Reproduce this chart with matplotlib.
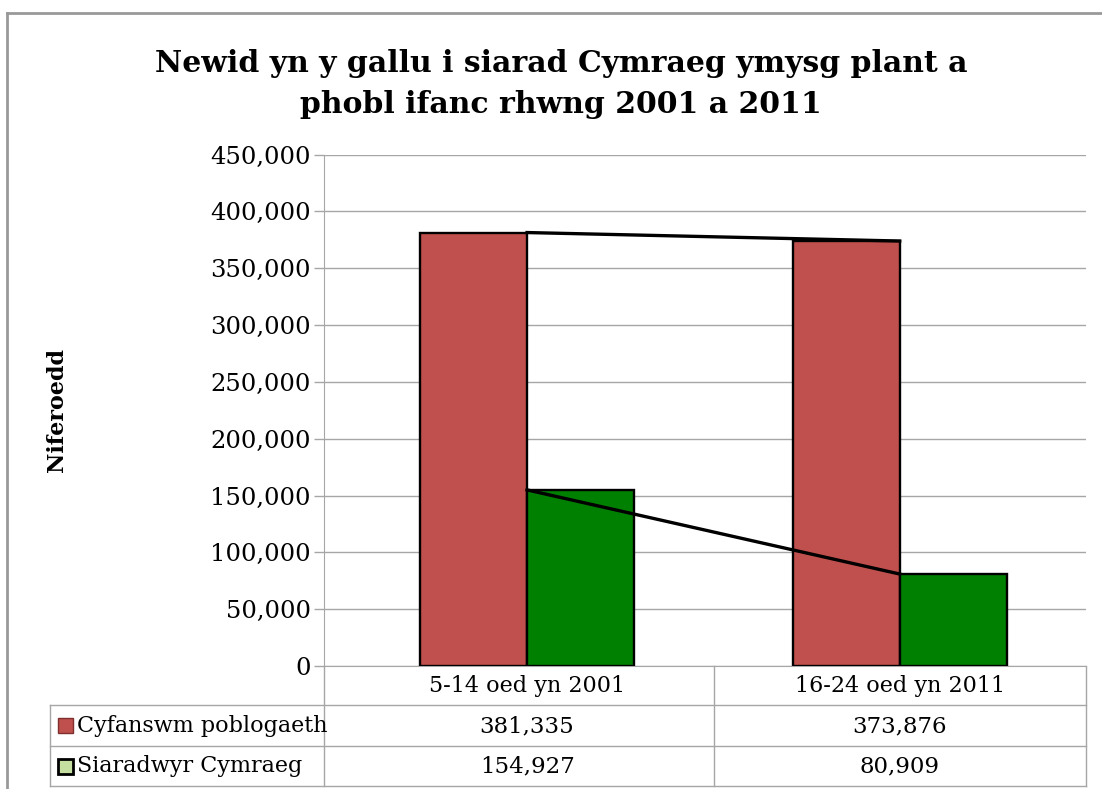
import matplotlib.pyplot as plt
from matplotlib.patches import Rectangle
from matplotlib.lines import Line2D

# Data
categories = ['5-14 oed yn 2001', '16-24 oed yn 2011']
series_names = ['Cyfanswm poblogaeth', 'Siaradwyr Cymraeg']
total_pop = [381335, 373876]
welsh_speakers = [154927, 80909]

title = 'Newid yn y gallu i siarad Cymraeg ymysg plant a\nphobl ifanc rhwng 2001 a 2011'
ylabel = 'Niferoedd'

red = '#C0504D'
green = '#008000'
grid_col = '#a6a6a6'

plt.rcParams['font.family'] = ['DejaVu Serif']

W, H = 1102, 789
fig = plt.figure(figsize=(W / 100, H / 100), dpi=100)

# plot area in pixels: x 324..1086, y 154.5..666
ax = fig.add_axes([324 / W, 1 - 666 / H, (1086 - 324) / W, (666 - 154.5) / H])

x = list(range(len(categories)))
bw = 0.287
ax.bar([i - bw / 2 for i in x], total_pop, width=bw, color=red,
       edgecolor='black', linewidth=1.7, zorder=3)
ax.bar([i + bw / 2 for i in x], welsh_speakers, width=bw, color=green,
       edgecolor='black', linewidth=1.7, zorder=3)

# series lines between the bars
ax.plot(x, total_pop, color='black', linewidth=2.4, zorder=4)
ax.plot(x, welsh_speakers, color='black', linewidth=2.4, zorder=4)

ax.set_xlim(-0.545, 1.5)
ax.set_ylim(0, 450000)
ax.set_yticks(range(0, 450001, 50000))
ax.set_yticklabels([f'{v:,}' for v in range(0, 450001, 50000)], fontsize=17.5)
ax.set_xticks([])
ax.grid(axis='y', color=grid_col, linewidth=1, zorder=0)
ax.tick_params(axis='y', length=7, width=1, color=grid_col, pad=2.5)
for s in ['top', 'right']:
    ax.spines[s].set_visible(False)
ax.spines['left'].set_color(grid_col)
ax.spines['bottom'].set_color(grid_col)

# data table below the axes (y in axes fraction)
def ay(py):
    return (666 - py) / (666 - 154.5)

def ax_x(px):
    return (px - 324) / (1086 - 324)

tbl = dict(transform=ax.transAxes, color=grid_col, linewidth=1, clip_on=False)
rows = [705, 746, 786]
for py in rows:
    ax.add_line(Line2D([ax_x(50), 1], [ay(py), ay(py)], **tbl))
ax.add_line(Line2D([0, 0], [0, ay(786)], **tbl))
ax.add_line(Line2D([ax_x(714), ax_x(714)], [0, ay(786)], **tbl))
ax.add_line(Line2D([1, 1], [0, ay(786)], **tbl))
ax.add_line(Line2D([ax_x(50), ax_x(50)], [ay(705), ay(786)], **tbl))

xt = ax.get_xaxis_transform()
for i, c in enumerate(categories):
    ax.text(i, ay(686), c, transform=xt, ha='center', va='center', fontsize=16)
for i, v in enumerate(total_pop):
    ax.text(i, ay(726), f'{v:,}', transform=xt, ha='center', va='center', fontsize=16.5)
for i, v in enumerate(welsh_speakers):
    ax.text(i, ay(766), f'{v:,}', transform=xt, ha='center', va='center', fontsize=16.5)

# legend keys inside the table
fig.patches.append(Rectangle((58 / W, 1 - 733 / H), 15 / W, 15 / H, transform=fig.transFigure,
                             facecolor=red, edgecolor='#7f2f2d', linewidth=1))
fig.patches.append(Rectangle((58 / W, 1 - 774 / H), 15 / W, 15 / H, transform=fig.transFigure,
                             facecolor='#c4dfa0', edgecolor='black', linewidth=2))
fig.text(77 / W, 1 - 726 / H, series_names[0], ha='left', va='center', fontsize=16)
fig.text(77 / W, 1 - 766 / H, series_names[1], ha='left', va='center', fontsize=16)

fig.text(561 / W, 1 - 84 / H, title, ha='center', va='center', fontsize=21.5,
         fontweight='bold', linespacing=1.5)
fig.text(57 / W, 1 - 410 / H, ylabel, ha='center', va='center', rotation=90,
         fontsize=16, fontweight='bold')

# outer chart border (top and left visible)
fig.lines.append(Line2D([7 / W, 1], [1 - 13 / H, 1 - 13 / H], transform=fig.transFigure,
                        color='#999999', linewidth=2))
fig.lines.append(Line2D([7 / W, 7 / W], [0, 1 - 13 / H], transform=fig.transFigure,
                        color='#999999', linewidth=2))

fig.savefig('out.png', dpi=100)
